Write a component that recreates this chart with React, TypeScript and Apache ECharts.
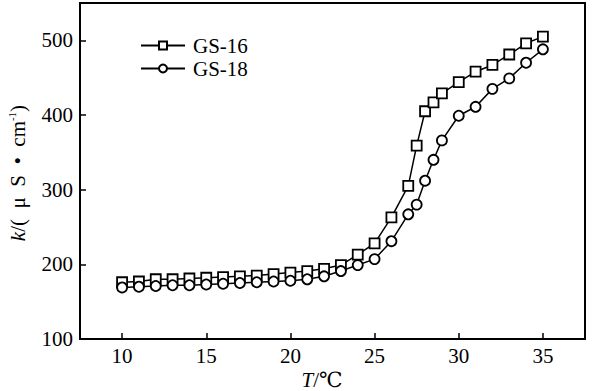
import React, { useEffect, useRef } from "react";
import * as echarts from "echarts";

const temperatures = [10, 11, 12, 13, 14, 15, 16, 17, 18, 19, 20, 21, 22, 23, 24, 25, 26, 27, 27.5, 28, 28.5, 29, 30, 31, 32, 33, 34, 35];
const gs16 = [176, 177, 180, 180, 181, 182, 183, 184, 185, 187, 189, 191, 194, 199, 213, 228, 263, 305, 359, 405, 417, 429, 444, 458, 467, 481, 496, 505];
const gs18 = [169, 170, 171, 172, 172, 173, 174, 175, 176, 177, 178, 180, 184, 191, 199, 207, 231, 267, 280, 312, 340, 366, 399, 411, 435, 449, 470, 488];
const xTicks = [10, 15, 20, 25, 30, 35];
const yTicks = [100, 200, 300, 400, 500];
const seriesNames = ["GS-16", "GS-18"];

const FONT = "'Liberation Serif', 'DejaVu Serif', serif";

export default function App() {
  const ref = useRef<HTMLDivElement>(null);
  useEffect(() => {
    if (!ref.current) return;
    const chart = echarts.init(ref.current, null, { renderer: "svg" });
    const mk = (ys: number[]) => temperatures.map((t, i) => [t, ys[i]]);
    const common = {
      type: "line",
      lineStyle: { color: "#000", width: 1.5 },
      itemStyle: { color: "#fff", borderColor: "#000", borderWidth: 1.8 },
      symbolSize: 10,
      showAllSymbol: true,
    };
    chart.setOption({
      animation: false,
      backgroundColor: "#fff",
      textStyle: { fontFamily: FONT },
      grid: {
        left: 80,
        right: 16,
        top: 3,
        bottom: 52,
        show: true,
        borderColor: "#000",
        borderWidth: 2,
        backgroundColor: "transparent",
      },
      legend: {
        orient: "vertical",
        left: 140,
        top: 35,
        padding: 0,
        itemWidth: 44,
        itemHeight: 10,
        itemGap: 2,
        textStyle: { fontFamily: FONT, fontSize: 21, color: "#000", padding: [0, 0, 0, 3] },
        data: seriesNames,
      },
      xAxis: {
        type: "value",
        min: 7.5,
        max: 37.5,
        splitLine: { show: false },
        axisLine: { lineStyle: { color: "#000", width: 2 } },
        axisTick: { inside: true, length: 6, lineStyle: { color: "#000", width: 1.5 }, customValues: xTicks },
        axisLabel: { customValues: xTicks, fontFamily: FONT, fontSize: 21, color: "#000", margin: 6 },
      },
      yAxis: {
        type: "value",
        min: 100,
        max: 550,
        splitLine: { show: false },
        axisLine: { lineStyle: { color: "#000", width: 2 } },
        axisTick: { inside: true, length: 6, lineStyle: { color: "#000", width: 1.5 }, customValues: yTicks },
        axisLabel: { customValues: yTicks, fontFamily: FONT, fontSize: 21, color: "#000", margin: 7 },
      },
      graphic: [
        {
          type: "text",
          x: 322,
          y: 380,
          style: {
            text: "{i|T}/℃",
            fontFamily: FONT,
            fontSize: 21,
            fill: "#000",
            align: "center",
            verticalAlign: "middle",
            rich: {
              i: { fontFamily: FONT, fontSize: 21, fontStyle: "italic", fill: "#000" },
            },
          },
        },
        {
          type: "text",
          x: 18,
          y: 173,
          rotation: Math.PI / 2,
          style: {
            text: "{i|k}/(  μ  S  •  cm{s|-1})",
            fontFamily: FONT,
            fontSize: 21,
            fill: "#000",
            align: "center",
            verticalAlign: "middle",
            rich: {
              i: { fontFamily: FONT, fontSize: 21, fontStyle: "italic", fill: "#000", lineHeight: 23 },
              s: { fontFamily: FONT, fontSize: 11, fill: "#000", verticalAlign: "top", lineHeight: 23 },
            },
          },
        },
      ],
      series: [
        { ...common, name: seriesNames[0], symbol: "rect", data: mk(gs16) },
        { ...common, name: seriesNames[1], symbol: "circle", data: mk(gs18) },
      ],
    });
    return () => chart.dispose();
  }, []);
  return (
    <div
      ref={ref}
      style={{ position: "fixed", left: 0, top: 0, width: 601, height: 391, background: "#fff" }}
    />
  );
}
